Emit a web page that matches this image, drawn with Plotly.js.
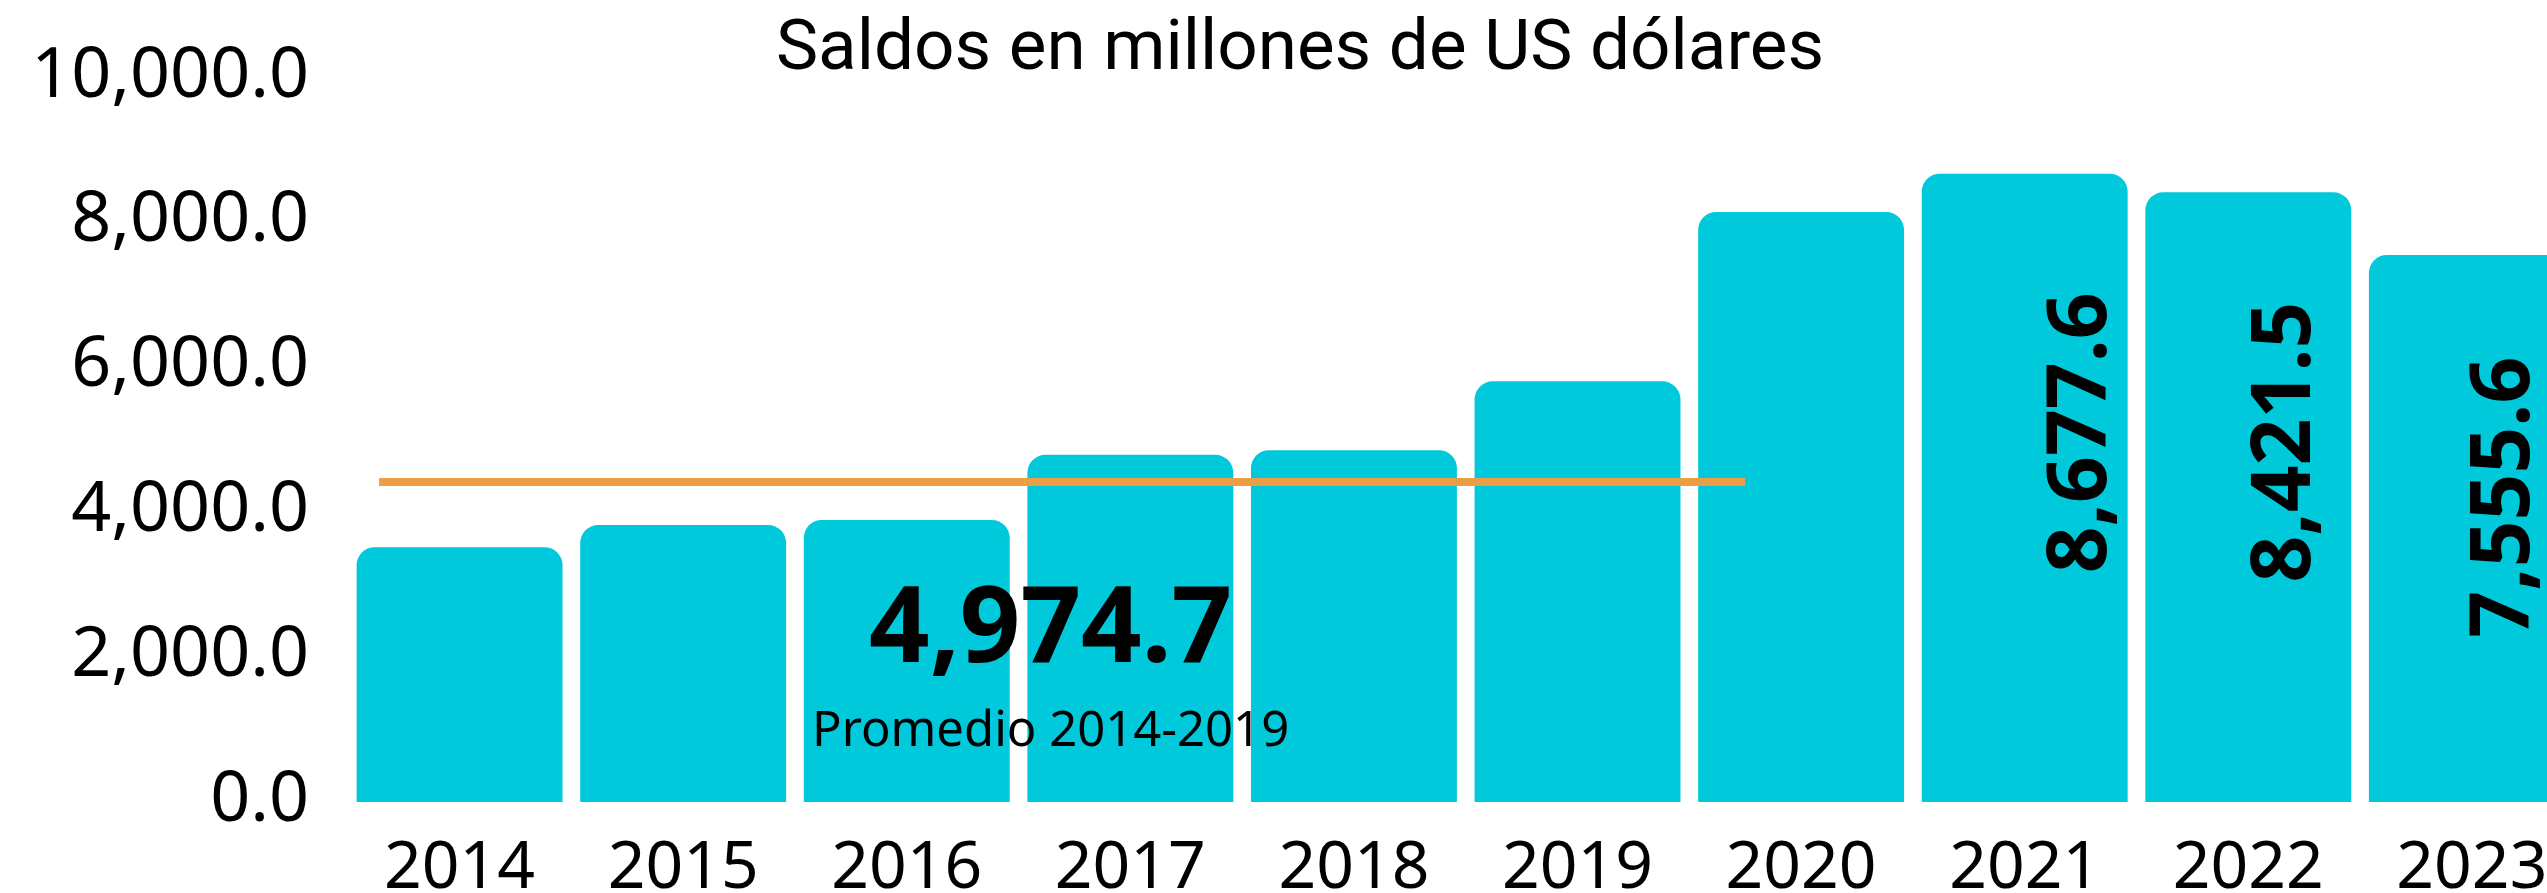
<!DOCTYPE html>
<html>
<head>
<meta charset="utf-8">
<script src="https://cdn.plot.ly/plotly-3.0.1.min.js"></script>
<style>
  html, body { margin: 0; padding: 0; background: #ffffff; }
  #chart { width: 2547px; height: 893px; }
</style>
</head>
<body>
<div id="chart"></div>
<script>
// ---- data ----
const years = ["2014", "2015", "2016", "2017", "2018", "2019", "2020", "2021", "2022", "2023"];
const saldos = [3520, 3825, 3895, 4795, 4860, 5810, 8150, 8677.6, 8421.5, 7555.6];
const labelledYears = ["2021", "2022", "2023"];
const averageLineValue = 4420;            // orange reference line (2014-2019)
const averageLabelValue = 4974.7;         // big number printed on the chart
const averageLabelText = "Promedio 2014-2019";
const titleText = "Saldos en millones de US dólares";
const yTickValues = [0, 2000, 4000, 6000, 8000, 10000];

// ---- styles ----
const barColor = "#00C9DB";
const lineColor = "#EB9E45";
const fontFamily = "'Noto Sans', 'Open Sans', sans-serif";
const titleFamily = "Roboto, 'Noto Sans', sans-serif";
const fmt = v => v.toLocaleString("en-US", {minimumFractionDigits: 1, maximumFractionDigits: 1});

const trace = {
  type: "bar",
  x: years,
  y: saldos,
  marker: { color: barColor, cornerradius: 18, line: { width: 0 } },
  hoverinfo: "skip"
};

// rotated value labels inside the last bars
const labelStyle = {
  "2021": { xshift: 49, frac: 0.588, yshift: 0 },
  "2022": { xshift: 30, frac: 0.590, yshift: 0 },
  "2023": { xshift: 25, frac: 0.558, yshift: 0 }
};
const annotations = labelledYears.map(yr => {
  const i = years.indexOf(yr);
  const s = labelStyle[yr];
  return {
    xref: "x", yref: "y",
    x: i, y: saldos[i] * s.frac,
    xshift: s.xshift, yshift: s.yshift,
    text: fmt(saldos[i]),
    textangle: -90,
    showarrow: false,
    xanchor: "center", yanchor: "middle",
    font: { family: fontFamily, size: 82, color: "#000000", weight: 700 }
  };
});
annotations.push({
  xref: "x", yref: "y",
  x: 2.645, y: 2500,
  text: fmt(averageLabelValue),
  showarrow: false, xanchor: "center", yanchor: "middle",
  font: { family: fontFamily, size: 106, color: "#000000", weight: 700 }
});
annotations.push({
  xref: "x", yref: "y",
  x: 2.645, y: 1036,
  text: averageLabelText,
  showarrow: false, xanchor: "center", yanchor: "middle",
  font: { family: fontFamily, size: 49, color: "#000000" }
});

const layout = {
  width: 2547,
  height: 893,
  paper_bgcolor: "#ffffff",
  plot_bgcolor: "#ffffff",
  margin: { l: 310, r: 0, t: 78, b: 91, pad: 0 },
  showlegend: false,
  bargap: 0.079,
  title: {
    text: titleText,
    xref: "container", yref: "container",
    x: 1300 / 2547, xanchor: "center",
    y: 1 - 44 / 893, yanchor: "middle",
    font: { family: titleFamily, size: 71, color: "#000000" }
  },
  xaxis: {
    type: "category",
    range: [-0.669, 9.336],
    showgrid: false, zeroline: false, showline: false,
    ticks: "",
    tickfont: { family: fontFamily, size: 66, color: "#000000" },
    ticklabelstandoff: 19
  },
  yaxis: {
    range: [0, 10000],
    tickvals: yTickValues,
    tickformat: ",.1f",
    showgrid: false, zeroline: false, showline: false,
    ticks: "",
    tickfont: { family: fontFamily, size: 70, color: "#000000" },
    ticklabelshift: -6
  },
  shapes: [{
    type: "line", xref: "x", yref: "y", layer: "above",
    x0: -0.36, x1: 5.75, y0: averageLineValue, y1: averageLineValue,
    line: { color: lineColor, width: 8 }
  }],
  annotations: annotations
};

Plotly.newPlot("chart", [trace], layout, { staticPlot: true, displayModeBar: false });
</script>
</body>
</html>
